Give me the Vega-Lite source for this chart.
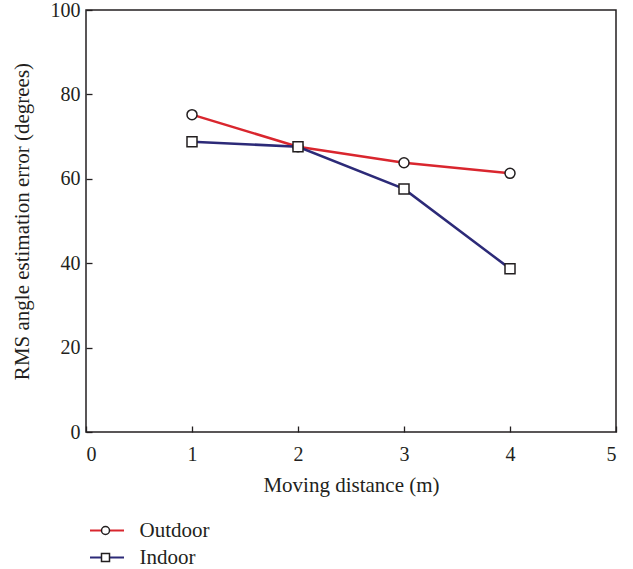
{
  "$schema": "https://vega.github.io/schema/vega-lite/v6.json",
  "width": 530,
  "height": 422,
  "autosize": {"type": "none"},
  "padding": {"left": 86, "top": 10, "right": 17, "bottom": 137},
  "background": "white",
  "config": {
    "font": "Liberation Serif",
    "view": {"stroke": "#231f20", "strokeWidth": 1.5},
    "axis": {
      "domain": false,
      "grid": false,
      "tickColor": "#231f20",
      "tickSize": -6,
      "tickWidth": 1.3,
      "labelFont": "Liberation Serif",
      "labelFontSize": 20,
      "labelColor": "#231f20",
      "titleFont": "Liberation Serif",
      "titleFontSize": 21,
      "titleFontWeight": "normal",
      "titleColor": "#231f20"
    },
    "legend": {
      "labelFont": "Liberation Serif",
      "labelFontSize": 21,
      "labelColor": "#231f20",
      "padding": 0,
      "rowPadding": 5
    }
  },
  "data": {
    "values": [
      {"distance": 1, "error": 75.2, "series": "Outdoor"},
      {"distance": 2, "error": 67.6, "series": "Outdoor"},
      {"distance": 3, "error": 63.8, "series": "Outdoor"},
      {"distance": 4, "error": 61.3, "series": "Outdoor"},
      {"distance": 1, "error": 68.8, "series": "Indoor"},
      {"distance": 2, "error": 67.6, "series": "Indoor"},
      {"distance": 3, "error": 57.6, "series": "Indoor"},
      {"distance": 4, "error": 38.7, "series": "Indoor"}
    ]
  },
  "encoding": {
    "x": {
      "field": "distance",
      "type": "quantitative",
      "scale": {"domain": [0, 5], "nice": false},
      "axis": {"values": [0, 1, 2, 3, 4, 5], "title": "Moving distance (m)", "labelPadding": 18, "titlePadding": 10}
    },
    "y": {
      "field": "error",
      "type": "quantitative",
      "scale": {"domain": [0, 100], "nice": false},
      "axis": {"values": [0, 20, 40, 60, 80, 100], "title": "RMS angle estimation error (degrees)", "labelPadding": 12, "titlePadding": 18}
    }
  },
  "layer": [
    {
      "mark": {"type": "line", "strokeWidth": 2.5},
      "encoding": {
        "color": {
          "field": "series",
          "type": "nominal",
          "sort": ["Outdoor", "Indoor"],
          "scale": {"domain": ["Outdoor", "Indoor"], "range": ["#d9262e", "#2c2a78"]},
          "legend": {
            "title": null,
            "orient": "none",
            "legendX": 10.5,
            "legendY": 510,
            "symbolType": "M-2,0H2",
            "symbolSize": 289,
            "symbolStrokeWidth": 2,
            "labelOffset": 22
          }
        }
      }
    },
    {
      "mark": {"type": "point", "filled": false, "fill": "white", "fillOpacity": 1, "stroke": "#231f20", "strokeWidth": 1.5, "size": 100, "opacity": 1},
      "encoding": {
        "shape": {
          "field": "series",
          "type": "nominal",
          "sort": ["Outdoor", "Indoor"],
          "scale": {"range": ["circle", "square"]},
          "legend": {
            "title": null,
            "orient": "none",
            "legendX": 9,
            "legendY": 510,
            "symbolSize": 64,
            "labelColor": "transparent",
            "labelExpr": "''",
            "encode": {
              "symbols": {
                "enter": {
                  "fill": {"value": "white"},
                  "stroke": {"value": "#231f20"},
                  "strokeWidth": {"value": 1.3},
                  "strokeOpacity": {"value": 1}
                },
                "update": {
                  "fill": {"value": "white"},
                  "stroke": {"value": "#231f20"},
                  "strokeWidth": {"value": 1.3},
                  "strokeOpacity": {"value": 1},
                  "opacity": {"value": 1}
                }
              }
            }
          }
        }
      }
    }
  ]
}
